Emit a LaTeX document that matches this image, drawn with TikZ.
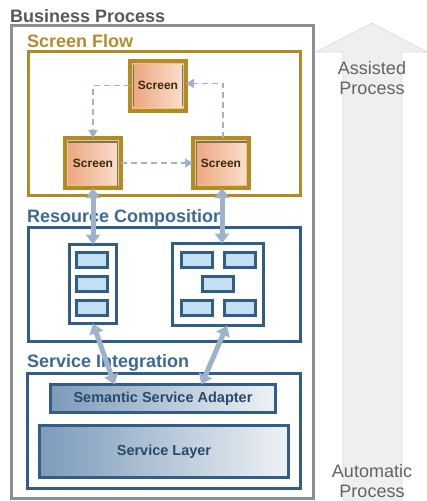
\documentclass[tikz,border=0pt]{standalone}
\usepackage{fontspec}
\setmainfont{Liberation Sans}
\usetikzlibrary{arrows.meta,calc}
\definecolor{gold}{HTML}{B38B22}
\definecolor{goldtext}{HTML}{B08E2E}
\definecolor{goldlight}{HTML}{E2C88A}
\definecolor{navy}{HTML}{325E86}
\definecolor{navytext}{HTML}{3D6A95}
\definecolor{barfill}{HTML}{C2E0F4}
\definecolor{outergray}{HTML}{8E8E8E}
\definecolor{arrowblue}{HTML}{9DB2CC}
\definecolor{dashblue}{HTML}{A9BACE}
\definecolor{peachdark}{HTML}{ECA37A}
\definecolor{peachlight}{HTML}{FBE2D2}
\definecolor{servleft}{HTML}{7C9ABA}
\definecolor{servright}{HTML}{EEF2F6}
\definecolor{bigarrow}{HTML}{EFEFEF}
\definecolor{bigarrowline}{HTML}{DEDEDE}
\definecolor{sidetext}{HTML}{636363}
\definecolor{screentext}{HTML}{3A2A14}
\definecolor{screenline}{HTML}{7A7460}
\begin{document}
\begin{tikzpicture}[x=1pt,y=-1pt,
  box/.style={draw, inner sep=0pt, outer sep=0pt},
  screenbox/.style={box, draw=gold, line width=4pt, left color=peachdark, right color=peachlight,
     minimum width=56pt, minimum height=50pt, font=\fontsize{12}{14}\selectfont\bfseries, text=screentext},
  groupbox/.style={box, line width=3pt, fill=white},
  panel/.style={box, draw=navy, line width=3pt, fill=white},
  bar/.style={box, draw=navy, line width=3pt, fill=barfill, minimum width=31pt, minimum height=15pt},
  servbox/.style={box, draw=navy, line width=3pt, left color=servleft, right color=servright,
     font=\fontsize{14.5}{16}\selectfont\bfseries, text=navy!80!black},
  label/.style={anchor=base west, inner sep=0pt, font=\fontsize{18}{20}\selectfont\bfseries},
  sidelabel/.style={anchor=base, inner sep=0pt, font=\fontsize{18}{20}\selectfont, text=sidetext},
  innerline/.style={draw=screenline, line width=1.1pt},
  rimline/.style={draw=goldlight, line width=0.7pt},
  flow/.style={draw=dashblue, line width=1.6pt, dash pattern=on 6pt off 4pt,
     -{Triangle[width=9pt,length=8pt]}, arrowblue},
  link/.style={draw=arrowblue, line width=5pt,
     {Triangle[width=14pt,length=10pt]}-{Triangle[width=14pt,length=10pt]}}
]
\useasboundingbox (0,0) rectangle (427,501);
\fill[white] (0,0) rectangle (427,501);

% big side arrow
\filldraw[fill=bigarrow, draw=bigarrowline, line width=0.8pt]
  (343,500) -- (343,52) -- (316,52) -- (372,23) -- (427,52) -- (402,52) -- (402,500) -- cycle;
\node[sidelabel] (as1) at (372,74) {Assisted};
\node[sidelabel] (as2) at (372,94) {Process};
\node[sidelabel] (au1) at (372,477) {Automatic};
\node[sidelabel] (au2) at (372,497) {Process};

% outer business process box
\node[box, draw=outergray, line width=3pt, minimum width=302pt, minimum height=473pt] (bp) at (162.5,261.5) {};
\node[label, text=black!65] (bpl) at (10,22) {Business Process};

% screen flow
\node[groupbox, draw=gold, line width=3.5pt, minimum width=272pt, minimum height=144pt] (sf) at (164.5,123.5) {};
\node[label, text=goldtext] (sfl) at (27,47) {Screen Flow};
\node[screenbox] (ts) at (158,85.5) {Screen};
\node[screenbox] (ls) at (93,163) {Screen};
\node[screenbox] (rs) at (221,163) {Screen};
% light rim inside the screen frames
\foreach \s in {ts,ls,rs}
  \draw[rimline] ($(\s.south west)+(2.4,-2.4)$) rectangle ($(\s.north east)+(-2.4,2.4)$);
% inner lines of screens
\draw[innerline] (133.5,65) -- (133.5,106);
\draw[innerline] (182.5,65) -- (182.5,106);
\draw[innerline] (68,142) -- (117.5,142) -- (117.5,187);
\draw[innerline] (247,142) -- (196.5,142) -- (196.5,187);

% screen flow connectors
\coordinate (tsr) at ($(ts.east)+(0,-2)$);
\draw[flow] (ts.west) -| (ls.north);
\draw[flow] (ls.east) -- (rs.west);
\draw[flow] (rs.north -| 223,0) |- (tsr);

% resource composition
\node[groupbox, draw=navy, minimum width=272pt, minimum height=114pt] (rc) at (164.5,284.5) {};
\node[label, text=navytext] (rcl) at (27,222) {Resource Composition};
\node[panel, minimum width=47pt, minimum height=79pt] (lp) at (93,284) {};
\node[panel, minimum width=91pt, minimum height=82pt] (rp) at (218,284.5) {};
\node[bar] (b1) at (91.5,260) {};
\node[bar] (b2) at (91.5,284) {};
\node[bar] (b3) at (91.5,307.5) {};
\node[bar] (b4) at (196.5,260) {};
\node[bar] (b5) at (239.5,260) {};
\node[bar] (b6) at (218,284) {};
\node[bar] (b7) at (196.5,307.5) {};
\node[bar] (b8) at (239.5,307.5) {};

% service integration
\node[groupbox, draw=navy, minimum width=273pt, minimum height=115pt] (si) at (164,431) {};
\node[label, text=navytext] (sil) at (27,367) {Service Integration};
\node[servbox, minimum width=225pt, minimum height=28pt] (ssa) at (163,398.5) {Semantic Service Adapter};
\node[servbox, minimum width=249pt, minimum height=52pt] (sl) at (164,451.5) {Service Layer};

% vertical links
\coordinate (ra) at ($(rs.south)+(1,0)$);
\draw[link] (ls.south) -- (ls.south |- lp.north);
\draw[link] (ra) -- (ra |- rp.north);
\coordinate (la2) at ($(ssa.north west)+(64,0)$);
\coordinate (ra1) at ($(rp.south)+(9,0)$);
\coordinate (ra2) at ($(ssa.north west)+(151,0)$);
\draw[link] (lp.south) -- (la2);
\draw[link] (ra1) -- (ra2);
\end{tikzpicture}
\end{document}
